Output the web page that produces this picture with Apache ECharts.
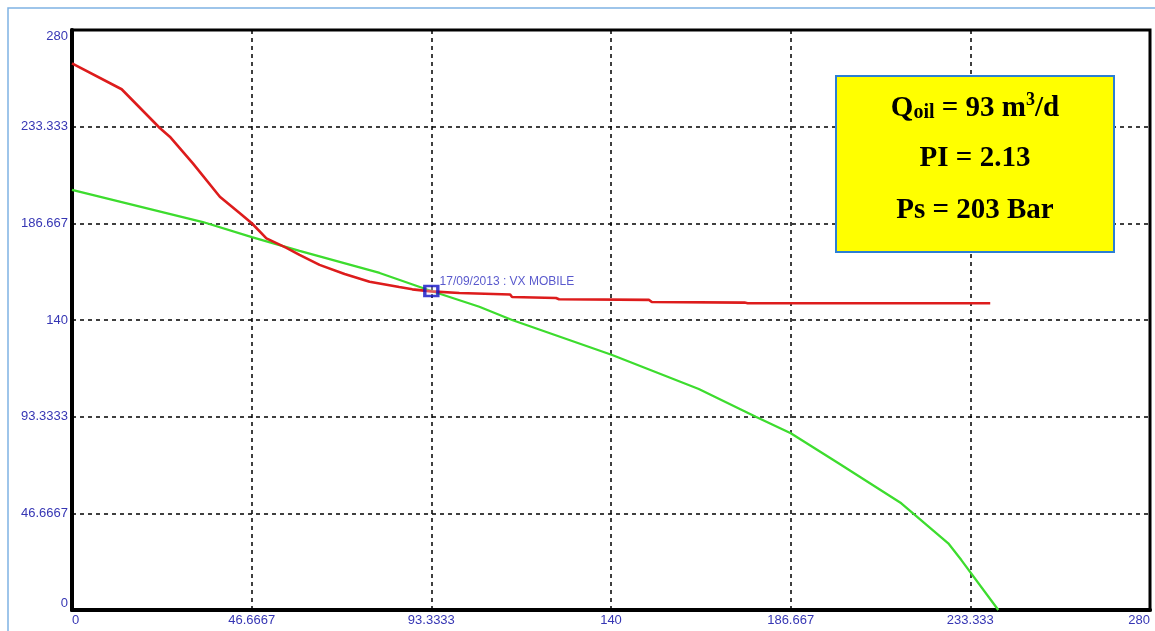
<!DOCTYPE html>
<html>
<head>
<meta charset="utf-8">
<script src="https://cdn.jsdelivr.net/npm/echarts@6/dist/echarts.min.js"></script>
<style>
  html, body { margin: 0; padding: 0; background: #ffffff; }
  #chart { width: 1155px; height: 631px; }
</style>
</head>
<body>
<div id="chart"></div>
<script>
// Tick labels shared by both axes (0 .. 280 in six steps)
const tickLabels = ['0', '46.6667', '93.3333', '140', '186.667', '233.333', '280'];

// Inflow performance curve: rate (x) vs pressure (y)
const iprRate = [0, 34.0, 46.7, 59.1, 79.9, 93.33, 105.8, 114.3, 140.3, 162.8, 177.6, 186.7, 199.1, 215.4, 227.6, 231.0, 240.6];
const iprPressure = [202.8, 187.3, 180.0, 173.4, 162.7, 154.0, 146.4, 140.0, 123.1, 106.7, 93.3, 85.3, 70.8, 51.5, 32.2, 24.1, 0];

// Tubing / lift curve: rate (x) vs pressure (y)
const tprRate = [0, 12.9, 22.8, 25.4, 31.4, 38.4, 43.6, 46.7, 50.5, 55.7, 59.1, 64.3, 70.8, 77.3, 85.0, 88.4, 93.33, 100.6, 113.8, 114.3, 125.7, 126.5, 149.9, 150.6, 174.7, 175.5, 238.5];
const tprPressure = [263.9, 251.4, 232.7, 228.5, 215.6, 199.5, 191.5, 186.7, 179.4, 174.8, 171.4, 166.6, 162.2, 158.5, 155.9, 154.8, 153.8, 153.0, 152.3, 151.1, 150.6, 150.0, 149.7, 148.7, 148.4, 148.1, 148.1];

// Operating point
const opPoint = [93.33, 154.0];
const opLabel = '17/09/2013 : VX MOBILE';

// Summary box text values
const qOil = '93';
const piValue = '2.13';
const psValue = '203';

const step = 280 / 6;
const fmt = v => tickLabels[Math.round(v / step)];

const zip = (xs, ys) => xs.map((x, i) => [x, ys[i]]);

const chart = echarts.init(document.getElementById('chart'), null, { renderer: 'canvas' });

const axisCommon = {
  type: 'value',
  min: 0,
  max: 280,
  interval: step,
  axisLine: { show: true, onZero: false, lineStyle: { color: '#000', width: 4 } },
  axisTick: { show: false },
  splitLine: { show: true, lineStyle: { color: '#000', type: [4, 4], width: 1.5 } },
  axisLabel: {
    formatter: fmt,
    color: '#3636b4',
    fontFamily: 'Liberation Sans, Arial, sans-serif',
    fontSize: 13
  }
};

const serif = 'Liberation Serif, Times New Roman, serif';

chart.setOption({
  animation: false,
  backgroundColor: '#ffffff',
  grid: {
    left: 72, top: 30, right: 5, bottom: 21,
    show: true, borderColor: '#000', borderWidth: 3, containLabel: false
  },
  xAxis: Object.assign({}, axisCommon, {
    axisLabel: Object.assign({}, axisCommon.axisLabel, { margin: 4, alignMinLabel: 'left', alignMaxLabel: 'right' })
  }),
  yAxis: Object.assign({}, axisCommon, {
    axisLabel: Object.assign({}, axisCommon.axisLabel, { margin: 4, verticalAlignMaxLabel: 'top', verticalAlignMinLabel: 'bottom' })
  }),
  series: [
    {
      name: 'IPR',
      type: 'line',
      data: zip(iprRate, iprPressure),
      showSymbol: false,
      lineStyle: { color: '#3ddc2e', width: 2.3 },
      z: 3
    },
    {
      name: 'TPR',
      type: 'line',
      data: zip(tprRate, tprPressure),
      showSymbol: false,
      lineStyle: { color: '#dd1c1c', width: 2.6 },
      z: 4
    },
    {
      name: 'Point',
      type: 'scatter',
      data: [opPoint],
      symbol: 'rect',
      symbolSize: [13, 10],
      itemStyle: { color: 'rgba(240,240,255,0.35)', borderColor: '#1010c4', borderWidth: 3 },
      label: {
        show: true,
        position: 'right',
        formatter: opLabel,
        color: '#3030c0',
        fontFamily: 'Liberation Sans, Arial, sans-serif',
        fontSize: 12,
        offset: [-5, -9]
      },
      z: 5
    }
  ],
  graphic: [
    {
      type: 'rect',
      shape: { x: 8, y: 8, width: 1170, height: 660 },
      style: { fill: 'none', stroke: '#7fb2e3', lineWidth: 1.5 },
      silent: true,
      z: 100
    },
    {
      type: 'rect',
      shape: { x: 836, y: 76, width: 278, height: 176 },
      style: { fill: '#ffff00', stroke: '#2b7fd4', lineWidth: 2 },
      z: 101
    },
    {
      type: 'text',
      x: 975, y: 107,
      style: {
        text: '{b|Q}{s|oil}{b| = ' + qOil + ' m}{p|3}{b|/d}',
        align: 'center', verticalAlign: 'middle',
        rich: {
          b: { fontFamily: serif, fontWeight: 'bold', fontSize: 29, fill: '#000', verticalAlign: 'bottom', lineHeight: 32 },
          s: { fontFamily: serif, fontWeight: 'bold', fontSize: 20, fill: '#000', verticalAlign: 'bottom', lineHeight: 29 },
          p: { fontFamily: serif, fontWeight: 'bold', fontSize: 18, fill: '#000', verticalAlign: 'top', lineHeight: 20 }
        }
      },
      z: 102
    },
    {
      type: 'text',
      x: 975, y: 159,
      style: {
        text: 'PI = ' + piValue,
        align: 'center', verticalAlign: 'middle',
        font: 'bold 29px "Liberation Serif", "Times New Roman", serif',
        fill: '#000'
      },
      z: 102
    },
    {
      type: 'text',
      x: 975, y: 211,
      style: {
        text: 'Ps = ' + psValue + ' Bar',
        align: 'center', verticalAlign: 'middle',
        font: 'bold 29px "Liberation Serif", "Times New Roman", serif',
        fill: '#000'
      },
      z: 102
    }
  ]
});
</script>
</body>
</html>
